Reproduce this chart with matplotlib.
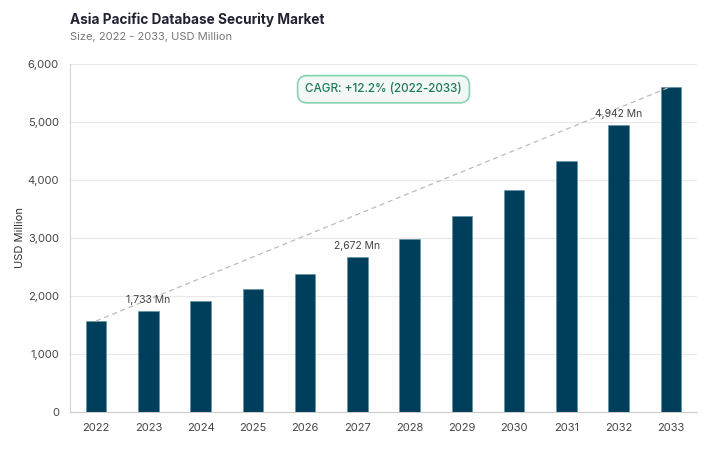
import numpy as np
import matplotlib.pyplot as plt
from matplotlib.ticker import FuncFormatter

years = ['2022', '2023', '2024', '2025', '2026', '2027',
         '2028', '2029', '2030', '2031', '2032', '2033']
values = [1570, 1733, 1914, 2121, 2379, 2672,
          2983, 3379, 3828, 4328, 4942, 5610]
labelled = ['2023', '2027', '2032']
cagr_text = 'CAGR: +12.2% (2022-2033)'

plt.rcParams['font.family'] = ['Inter', 'DejaVu Sans']

fig = plt.figure(figsize=(7.19, 4.49), dpi=100)
W, H = 719, 449
ax = fig.add_axes([70 / W, (H - 412) / H, (697 - 70) / W, (412 - 64) / H])

x = np.arange(len(years))
ax.bar(x, values, width=0.39, color='#003f5c', edgecolor='#5d8fa3', linewidth=0.4, zorder=3)

# trend line from first to last bar
ax.plot([x[0], x[-1]], [values[0], values[-1]], ls=(0, (4, 3)), color='#bbbbbb', lw=0.9, zorder=4)

for i, y in enumerate(years):
    if y in labelled:
        ax.text(x[i], values[i] + 110, f'{values[i]:,} Mn', ha='center', va='bottom',
                fontsize=7.5, color='#444444', zorder=5)

ax.text(5.5, 5565, cagr_text, ha='center', va='center', fontsize=8.4, color='#1d7a5a',
        fontweight='medium',
        bbox=dict(boxstyle='round,pad=0.65,rounding_size=0.8', fc='#f3f7f6', ec='#86d3b4', lw=1.2),
        zorder=6)

ax.set_xlim(-0.5, 11.5)
ax.set_ylim(0, 6000)
ax.set_yticks(range(0, 6001, 1000))
ax.yaxis.set_major_formatter(FuncFormatter(lambda v, p: f'{int(v):,}'))
ax.set_xticks(x)
ax.set_xticklabels(years)
ax.tick_params(axis='both', length=0, labelsize=8, colors='#444444')
ax.tick_params(axis='x', pad=8)
ax.tick_params(axis='y', pad=8)
ax.grid(axis='y', color='#e8e8e8', lw=0.8, zorder=0)
for s in ['top', 'right']:
    ax.spines[s].set_visible(False)
ax.spines['left'].set_color('#d5d5d5')
ax.spines['bottom'].set_color('#cccccc')
ax.set_ylabel('USD Million', fontsize=8, color='#333333', labelpad=2)

fig.text(70 / W, 1 - 20 / H, 'Asia Pacific Database Security Market', fontsize=9.8,
         fontweight='bold', color='#222233', va='center')
fig.text(70 / W, 1 - 37 / H, 'Size, 2022 - 2033, USD Million', fontsize=8,
         color='#777777', va='center')

fig.savefig('out.png', dpi=100)
